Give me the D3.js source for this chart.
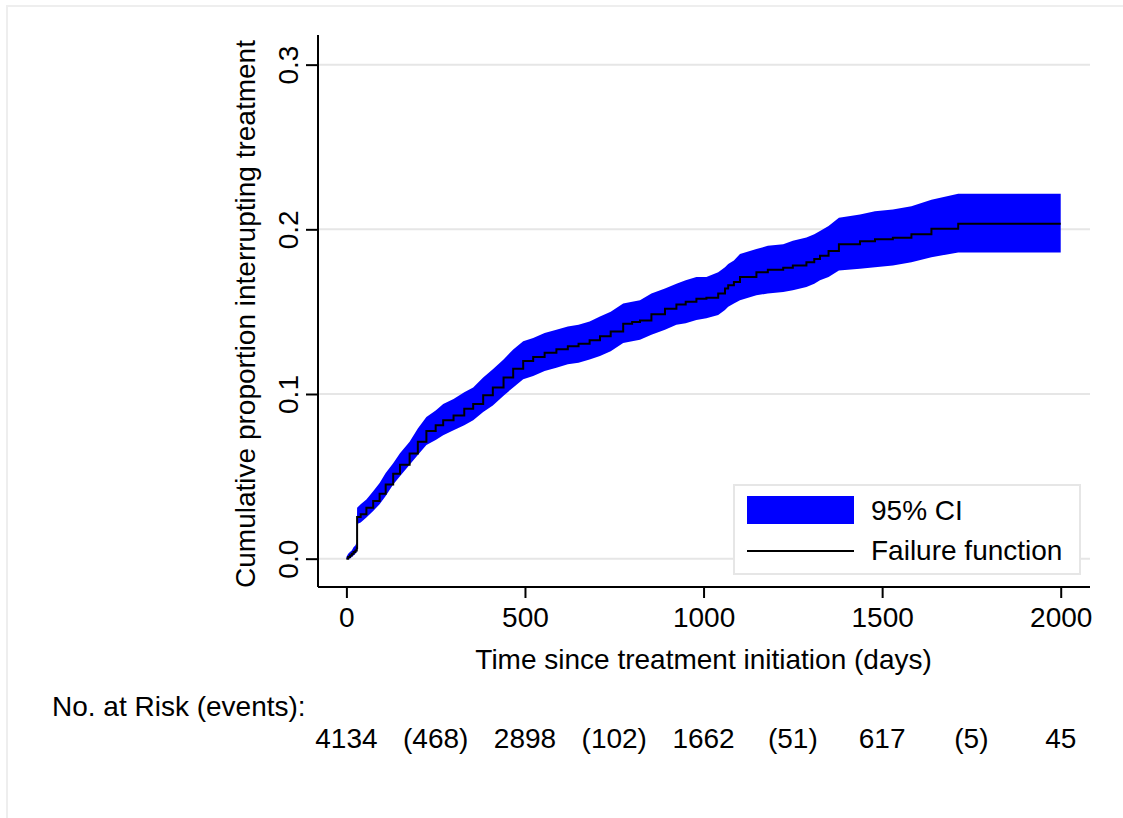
<!DOCTYPE html>
<html>
<head>
<meta charset="utf-8">
<script src="https://cdn.jsdelivr.net/npm/d3@7"></script>
<style>
    body { margin: 0; background: #fff; }
    text { font-family: "Liberation Sans", Arial, sans-serif; fill: #000; }
</style>
</head>
<body>
<div id="chart-container"></div>
<script>
// data (days, failure estimate, 95% CI)
let days = [0, 5, 10, 15, 20, 25, 29, 30, 40, 56, 75, 93, 110, 131, 150, 177, 200, 224, 250, 271,
    300, 330, 355, 383, 410, 440, 467, 495, 523, 555, 588, 620, 650, 681, 710, 740, 775, 800, 822,
    854, 892, 924, 950, 980, 1008, 1041, 1060, 1069, 1085, 1102, 1148, 1180, 1223, 1250, 1288, 1310,
    1326, 1350, 1379, 1438, 1480, 1530, 1582, 1638, 1713, 2000];
let failure = [0, .001, .002, .003, .004, .005, .0063, .0253, .027, .031, .035, .0395, .045, .0516, .057, .0638, .071, .0775, .081, .084,
    .087, .091, .094, .0992, .104, .110, .1154, .120, .1224, .125, .1271, .129, .1305, .1326, .135, .138, .1427, .1437, .1447,
    .1484, .1518, .1544, .156, .1579, .1585, .161, .164, .166, .168, .171, .174, .1755, .1767, .178, .180, .182,
    .184, .1868, .191, .1927, .194, .1949, .197, .2004, .2034, .2034];
let ciLower = [0, 0, 0, .001, .002, .003, .004, .021, .022, .025, .029, .033, .038, .045, .050, .057, .063, .069, .072, .075,
    .078, .081, .084, .089, .093, .099, .104, .109, .111, .114, .116, .118, .119, .121, .123, .126, .131, .132, .133,
    .136, .139, .142, .143, .145, .146, .148, .151, .153, .155, .157, .160, .161, .162, .163, .165, .167,
    .169, .171, .175, .176, .177, .178, .180, .183, .186, .186];
let ciUpper = [.001, .003, .004, .005, .007, .008, .010, .031, .033, .036, .041, .046, .052, .058, .064, .071, .079, .086, .090, .094,
    .097, .101, .104, .110, .115, .121, .127, .132, .134, .137, .139, .141, .142, .144, .147, .150, .155, .156, .157,
    .161, .164, .167, .169, .171, .171, .174, .177, .179, .181, .185, .188, .190, .191, .193, .195, .197,
    .199, .202, .207, .209, .211, .212, .214, .218, .2216, .2216];

let xTicks = [0, 500, 1000, 1500, 2000];
let yTicks = [0, 0.1, 0.2, 0.3];
let riskDays = [0, 250, 500, 750, 1000, 1250, 1500, 1750, 2000];
let riskLabels = ["4134", "(468)", "2898", "(102)", "1662", "(51)", "617", "(5)", "45"];
let legendLabels = ["95% CI", "Failure function"];

let margin = {top: 35, right: 33, bottom: 231, left: 318},
    width = 1123 - margin.left - margin.right,
    height = 818 - margin.top - margin.bottom;

let fontSize = 28;

let rows = days.map((d, i) => ({day: d, est: failure[i], lo: ciLower[i], hi: ciUpper[i]}));

let root = d3.select("#chart-container")
    .append("svg")
    .attr("width", 1123)
    .attr("height", 818);

// faint outer frame
root.append("rect")
    .attr("x", 7)
    .attr("y", 6)
    .attr("width", 1130)
    .attr("height", 830)
    .style("fill", "none")
    .style("stroke", "#eeeeee")
    .style("stroke-width", 2);

let svg = root.append("g")
    .attr("transform", "translate(" + margin.left + "," + margin.top + ")");

let x = d3.scaleLinear()
    .domain([-79.5, 2082])
    .range([0, width]);

let y = d3.scaleLinear()
    .domain([-0.0172, 0.318])
    .range([height, 0]);

// gridlines
svg.selectAll("line.grid")
    .data(yTicks)
    .enter()
    .append("line")
    .attr("class", "grid")
    .attr("x1", 0)
    .attr("x2", width)
    .attr("y1", d => y(d))
    .attr("y2", d => y(d))
    .style("stroke", "#e6e6e6")
    .style("stroke-width", 2);

// confidence band
let band = d3.area()
    .x(d => x(d.day))
    .y0(d => y(d.lo))
    .y1(d => y(d.hi));

svg.append("path")
    .datum(rows)
    .attr("d", band)
    .style("fill", "#0000ff");

// failure function
let line = d3.line()
    .x(d => x(d.day))
    .y(d => y(d.est))
    .curve(d3.curveStepAfter);

svg.append("path")
    .datum(rows)
    .attr("d", line)
    .style("fill", "none")
    .style("stroke", "#000")
    .style("stroke-width", 2);

// x axis
let xAxis = d3.axisBottom(x)
    .tickValues(xTicks)
    .tickSize(11)
    .tickPadding(9)
    .tickFormat(d3.format("d"));
let gx = svg.append("g")
    .attr("class", "x axis")
    .attr("transform", "translate(0," + height + ")")
    .call(xAxis);

// y axis
let yAxis = d3.axisLeft(y)
    .tickValues(yTicks)
    .tickSize(12)
    .tickFormat(d3.format(".1f"));
let gy = svg.append("g")
    .attr("class", "y axis")
    .call(yAxis);
gy.selectAll(".tick text")
    .attr("x", 0)
    .attr("y", -20)
    .attr("dy", 0)
    .attr("transform", "rotate(-90)")
    .style("text-anchor", "middle");

[gx, gy].forEach(g => {
    g.select(".domain").style("stroke", "#000").style("stroke-width", 2);
    g.selectAll(".tick line").style("stroke", "#000").style("stroke-width", 2);
    g.selectAll(".tick text")
        .style("font-family", "Liberation Sans, Arial, sans-serif")
        .style("font-size", fontSize + "px")
        .style("fill", "#000");
});
gx.select(".domain").attr("d", "M0,0H" + width);
gy.select(".domain").attr("d", "M0,0V" + height);

// axis titles
svg.append("text")
    .attr("x", x(1000))
    .attr("y", 669 - margin.top)
    .style("text-anchor", "middle")
    .style("font-size", fontSize + "px")
    .text("Time since treatment initiation (days)");

svg.append("text")
    .attr("transform", "translate(" + (255 - margin.left) + "," + (314 - margin.top) + ") rotate(-90)")
    .style("text-anchor", "middle")
    .style("font-size", fontSize + "px")
    .text("Cumulative proportion interrupting treatment");

// legend
let legend = root.append("g")
    .attr("transform", "translate(734,485)");
legend.append("rect")
    .attr("width", 346)
    .attr("height", 89)
    .style("fill", "#fff")
    .style("stroke", "#e6e6e6")
    .style("stroke-width", 2);
legend.append("rect")
    .attr("x", 13)
    .attr("y", 11)
    .attr("width", 107)
    .attr("height", 28)
    .style("fill", "#0000ff");
legend.append("line")
    .attr("x1", 13)
    .attr("x2", 120)
    .attr("y1", 66)
    .attr("y2", 66)
    .style("stroke", "#000")
    .style("stroke-width", 2);
legend.selectAll("text")
    .data(legendLabels)
    .enter()
    .append("text")
    .attr("x", 137)
    .attr("y", (d, i) => 35 + i * 40)
    .style("font-size", fontSize + "px")
    .text(d => d);

// number at risk table
root.append("text")
    .attr("x", 52)
    .attr("y", 716)
    .style("font-size", fontSize + "px")
    .text("No. at Risk (events):");

svg.selectAll("text.risk")
    .data(riskLabels)
    .enter()
    .append("text")
    .attr("class", "risk")
    .attr("x", (d, i) => x(riskDays[i]))
    .attr("y", 748 - margin.top)
    .style("text-anchor", "middle")
    .style("font-size", fontSize + "px")
    .text(d => d);
</script>
</body>
</html>
